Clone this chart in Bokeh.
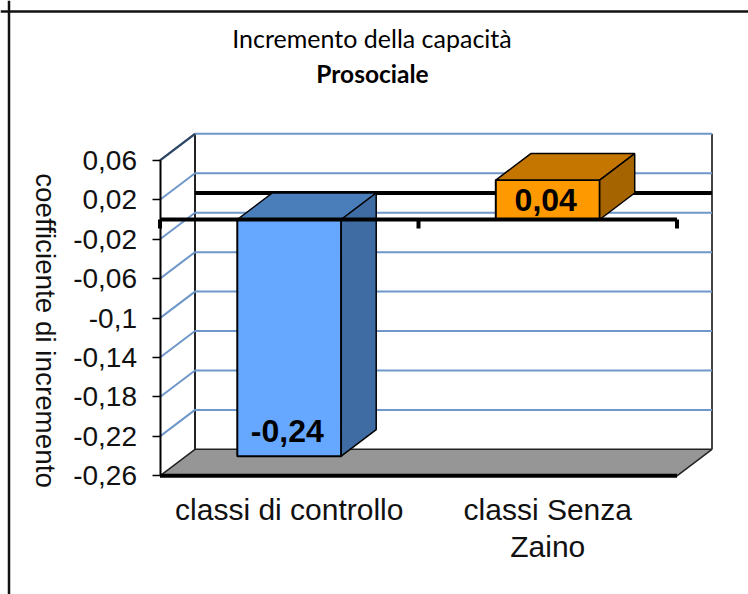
from math import pi
from bokeh.plotting import figure
from bokeh.embed import file_html
from bokeh.resources import INLINE
from bokeh.models import LinearAxis, FixedTicker, Span, Range1d
from bokeh.core.properties import value

# ---- data -----------------------------------------------------------------
categories = ["classi di controllo", "classi Senza\nZaino"]
values = [-0.24, 0.04]
value_labels = ["-0,24", "0,04"]
y_ticks = [0.06, 0.02, -0.02, -0.06, -0.1, -0.14, -0.18, -0.22, -0.26]
y_tick_labels = ["0,06", "0,02", "-0,02", "-0,06", "-0,1", "-0,14", "-0,18", "-0,22", "-0,26"]
y_label = "coefficiente di incremento"
title_line1 = "Incremento della capacità"
title_line2 = "Prosociale"
front_colors = ["#66a8ff", "#ff9900"]
top_colors = ["#4a7ebb", "#c47600"]
side_colors = ["#3f6ca3", "#a66400"]

# ---- scales: one category = 258.5 px, one value unit = 986 px --------------
PW, PH = 748, 594
PX_X, PX_Y = 258.5, 986.0
x0_px, y0_px = 159.5, 219.0           # figure pixel of x=0 and y=0
x_start = (0 - x0_px) / PX_X
x_end = (PW - x0_px) / PX_X
y_top = (y0_px - 0) / PX_Y
y_bot = (y0_px - PH) / PX_Y
DX, DY = 35 / PX_X, 26.5 / PX_Y        # depth of the 3-D projection
BAR_W = 0.402

p = figure(width=PW, height=PH, output_backend="svg", toolbar_location=None,
           x_range=Range1d(x_start, x_end), y_range=Range1d(y_bot, y_top),
           min_border=0, min_border_left=0, min_border_right=0, min_border_top=0, min_border_bottom=0,
           x_axis_location=None, y_axis_location=None)
p.grid.visible = False
p.outline_line_color = None
p.background_fill_color = "white"

vmin, vmax = y_ticks[-1], y_ticks[0]
n_cat = len(categories)

# outer page frame
px = lambda x: (x - x0_px) / PX_X
py = lambda y: (y0_px - y) / PX_Y
p.add_layout(Span(location=px(8.5), dimension="height", line_color="#111111", line_width=2.5))
p.add_layout(Span(location=py(11), dimension="width", line_color="#111111", line_width=2.5))

# back wall
p.line([DX, DX], [vmin + DY, vmax + DY], line_color="#222222", line_width=2)
p.line([n_cat + DX, n_cat + DX], [vmin + DY, vmax + DY], line_color="#444444", line_width=2)

# grid lines: diagonal on the side wall, horizontal on the back wall
gx, gy = [], []
for t in y_ticks[:-1]:
    gx.append([0, DX, n_cat + DX])
    gy.append([t, t + DY, t + DY])
p.multi_line(gx, gy, line_color="#6f97c9", line_width=2)
p.line([0, DX], [vmax, vmax + DY], line_color="#2f4560", line_width=2)

# floor and its thick front edge
p.patch([0, n_cat, n_cat + DX, DX], [vmin, vmin, vmin + DY, vmin + DY],
        fill_color="#969696", line_color="#222222", line_width=1.5)
p.line([0, n_cat], [vmin, vmin], line_color="black", line_width=4)

# zero line on the back wall
p.line([DX, n_cat + DX], [DY, DY], line_color="black", line_width=4)

# bars
for i, v in enumerate(values):
    l, r = i + 0.5 - BAR_W / 2, i + 0.5 + BAR_W / 2
    hi, lo = max(v, 0), min(v, 0)
    p.patch([l, r, r, l], [lo, lo, hi, hi], fill_color=front_colors[i], line_color="black", line_width=2)
    p.patch([l, r, r + DX, l + DX], [hi, hi, hi + DY, hi + DY], fill_color=top_colors[i], line_color="black", line_width=1.5)
    p.patch([r, r + DX, r + DX, r], [lo, lo + DY, hi + DY, hi], fill_color=side_colors[i], line_color="black", line_width=1.5)

# front zero line with its ticks
p.line([0, n_cat], [0, 0], line_color="black", line_width=4)
tick_x = list(range(n_cat + 1))
p.segment(tick_x, [0] * len(tick_x), tick_x, [-9 / PX_Y] * len(tick_x), line_color="black", line_width=4)

# data labels
lab_y = [values[0] + 0.026, values[1] / 2]
p.text([i + 0.5 for i in range(n_cat)], lab_y, text=value_labels, text_align="center", text_baseline="middle",
       x_offset=-2, text_font=value("Liberation Sans"), text_font_style="bold", text_font_size="32px", text_color="black")

# value axis
yax = LinearAxis(fixed_location=0, ticker=FixedTicker(ticks=y_ticks), bounds=(vmin, vmax))
yax.major_label_overrides = dict(zip(y_ticks, y_tick_labels))
yax.major_label_text_font = "Liberation Sans"
yax.major_label_text_font_size = "28px"
yax.major_label_text_color = "#111111"
yax.major_label_standoff = 15
yax.major_tick_out = 8
yax.major_tick_in = 0
yax.major_tick_line_width = 1.5
yax.minor_tick_line_color = None
yax.axis_line_width = 2
p.add_layout(yax, "left")

# category labels
p.text([i + 0.5 for i in range(n_cat)], [py(492.5)] * n_cat, text=categories, text_align="center", text_baseline="top",
       text_font=value("Liberation Sans"), text_font_size="30px", text_color="#111111", text_line_height=1.13)

# y-axis title and chart title
p.text([px(45)], [py(330)], text=[y_label], angle=-pi / 2, text_align="center", text_baseline="middle",
       text_font=value("Liberation Sans"), text_font_size="27.8px", text_color="#111111")
p.text([px(371.5)], [py(37)], text=[title_line1], text_align="center", text_baseline="middle",
       text_font=value("Lato"), text_font_size="25px", text_color="black")
p.text([px(372)], [py(73)], text=[title_line2], text_align="center", text_baseline="middle",
       text_font=value("Lato"), text_font_style="bold", text_font_size="24.5px", text_color="black")

open("out.html", "w").write(file_html(p, INLINE))
